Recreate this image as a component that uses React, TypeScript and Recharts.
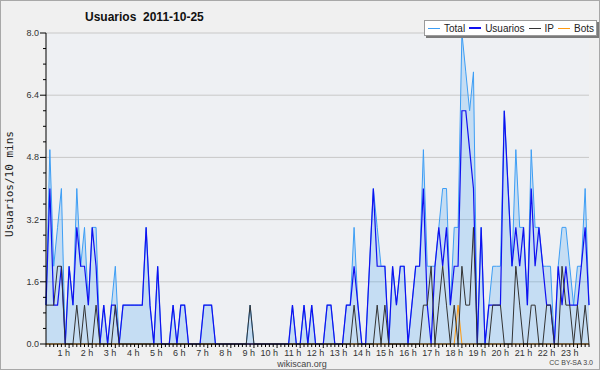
import React from "react";
import { ComposedChart, Area, Line, XAxis, YAxis, CartesianGrid } from "recharts";

// 10-minute slots, 0 = 00:00
const total = [
  1, 5, 2, 3, 4, 0, 2, 1, 4, 2,
  3, 1, 3, 3, 0, 1, 0, 1, 2, 0,
  1, 1, 1, 1, 1, 1, 3, 1, 0, 2,
  0, 0, 0, 1, 0, 1, 1, 0, 0, 0,
  0, 1, 1, 1, 0, 0, 0, 0, 0, 0,
  0, 0, 0, 1, 0, 0, 0, 0, 0, 0,
  0, 0, 0, 0, 1, 0, 0, 1, 0, 1,
  0, 0, 0, 1, 1, 0, 0, 0, 1, 1,
  3, 1, 0, 0, 2, 4, 3, 2, 2, 0,
  2, 1, 2, 2, 0, 1, 2, 2, 5, 2,
  2, 2, 3, 4, 4, 1, 3, 3, 8, 7,
  6, 7, 0, 3, 0, 1, 2, 2, 2, 6,
  4, 2, 5, 3, 3, 1, 5, 3, 3, 2,
  2, 2, 0, 2, 3, 3, 2, 1, 2, 2,
  4, 1,
];

const usuarios = [
  1, 4, 1, 1, 2, 0, 2, 1, 3, 2,
  2, 1, 3, 2, 0, 1, 0, 1, 1, 0,
  1, 1, 1, 1, 1, 1, 3, 1, 0, 2,
  0, 0, 0, 1, 0, 1, 1, 0, 0, 0,
  0, 1, 1, 1, 0, 0, 0, 0, 0, 0,
  0, 0, 0, 0, 0, 0, 0, 0, 0, 0,
  0, 0, 0, 0, 1, 0, 0, 1, 0, 1,
  0, 0, 0, 1, 1, 0, 0, 0, 1, 1,
  2, 1, 0, 0, 2, 4, 2, 2, 2, 0,
  2, 1, 2, 2, 0, 1, 2, 2, 4, 1,
  0, 2, 3, 2, 3, 1, 2, 2, 6, 6,
  5, 4, 0, 3, 0, 1, 1, 1, 1, 6,
  4, 2, 3, 2, 3, 1, 4, 2, 3, 2,
  1, 1, 0, 2, 1, 2, 1, 1, 1, 2,
  3, 1,
];

const ip = [
  1, 1, 1, 2, 2, 0, 0, 0, 1, 0,
  1, 0, 0, 1, 0, 0, 0, 0, 1, 0,
  0, 0, 0, 0, 0, 0, 0, 0, 0, 0,
  0, 0, 0, 0, 0, 0, 0, 0, 0, 0,
  0, 0, 0, 0, 0, 0, 0, 0, 0, 0,
  0, 0, 0, 1, 0, 0, 0, 0, 0, 0,
  0, 0, 0, 0, 0, 0, 0, 0, 0, 0,
  0, 0, 0, 0, 0, 0, 0, 0, 0, 0,
  1, 0, 0, 0, 0, 0, 1, 0, 1, 0,
  0, 0, 0, 0, 0, 0, 0, 0, 1, 1,
  2, 0, 1, 2, 1, 0, 1, 0, 2, 1,
  1, 3, 0, 0, 0, 0, 1, 1, 1, 0,
  0, 0, 2, 1, 0, 0, 1, 1, 0, 0,
  1, 1, 0, 0, 2, 1, 1, 0, 1, 0,
  1, 0,
];

const bots = [
  0, 0, 0, 0, 0, 0, 0, 0, 0, 0,
  0, 0, 0, 0, 0, 0, 0, 0, 0, 0,
  0, 0, 0, 0, 0, 0, 0, 0, 0, 0,
  0, 0, 0, 0, 0, 0, 0, 0, 0, 0,
  0, 0, 0, 0, 0, 0, 0, 0, 0, 0,
  0, 0, 0, 0, 0, 0, 0, 0, 0, 0,
  0, 0, 0, 0, 0, 0, 0, 0, 0, 0,
  0, 0, 0, 0, 0, 0, 0, 0, 0, 0,
  0, 0, 0, 0, 0, 0, 0, 0, 0, 0,
  0, 0, 0, 0, 0, 0, 0, 0, 0, 0,
  0, 0, 0, 0, 0, 0, 0, 1, 0, 0,
  0, 0, 0, 0, 0, 0, 0, 0, 0, 0,
  0, 0, 0, 0, 0, 0, 0, 0, 0, 0,
  0, 0, 0, 0, 0, 0, 0, 0, 0, 0,
  0, 0,
];

const hourTicks = [6, 12, 18, 24, 30, 36, 42, 48, 54, 60, 66, 72, 78, 84, 90, 96, 102, 108, 114, 120, 126, 132, 138];
const hourLabels = [
  "1 h", "2 h", "3 h", "4 h", "5 h", "6 h", "7 h", "8 h", "9 h", "10 h", "11 h", "12 h",
  "13 h", "14 h", "15 h", "16 h", "17 h", "18 h", "19 h", "20 h", "21 h", "22 h", "23 h",
];
const yTicks = [0, 0.4, 0.8, 1.2, 1.6, 2, 2.4, 2.8, 3.2, 3.6, 4, 4.4, 4.8, 5.2, 5.6, 6, 6.4, 6.8, 7.2, 7.6, 8];
const yMajor = [0, 1.6, 3.2, 4.8, 6.4, 8];

const data = total.map((t, i) => ({ i, total: t, usuarios: usuarios[i], ip: ip[i], bots: bots[i] }));
const xTicks = data.map((d) => d.i);

const SANS = '"Liberation Sans", Arial, sans-serif';
const C_TOTAL = "#3d9ef5";
const C_USR = "#1010f0";
const C_IP = "#333333";
const C_BOTS = "#ff9a10";

function XTick({ x, y, payload }: any) {
  const h = hourTicks.indexOf(payload.value);
  return (
    <g>
      <line x1={x} x2={x} y1={y} y2={y + (h >= 0 ? 4 : 3)} stroke="#000" />
      {h >= 0 && (
        <text x={x + 1} y={y + 12} textAnchor="end" fontSize={9} fontFamily={SANS} fill="#333">
          {hourLabels[h]}
        </text>
      )}
    </g>
  );
}

function YTick({ x, y, payload }: any) {
  const v = payload.value;
  const major = yMajor.some((m) => Math.abs(m - v) < 1e-6);
  return (
    <g>
      <line x1={x - (major ? 6 : 3)} x2={x} y1={y} y2={y} stroke="#000" />
      {major && (
        <text x={x - 7} y={y + 3} textAnchor="end" fontSize={9} fontFamily={SANS} fill="#333">
          {v.toFixed(1)}
        </text>
      )}
    </g>
  );
}

const legendItems = [
  { name: "Total", color: C_TOTAL, w: 1 },
  { name: "Usuarios", color: C_USR, w: 1.5 },
  { name: "IP", color: C_IP, w: 1 },
  { name: "Bots", color: C_BOTS, w: 1 },
];

export default function App() {
  return (
    <div style={{ position: "absolute", left: 0, top: 0, width: 600, height: 370, background: "#f0f0f0", fontFamily: SANS }}>
      <ComposedChart width={600} height={370} data={data} margin={{ top: 33, right: 11, bottom: 0, left: 0 }}>
        <CartesianGrid vertical={false} horizontalValues={[1.6, 3.2, 4.8, 6.4, 8]} stroke="#c8c8c8" fill="#eef0f3" fillOpacity={1} />
        <XAxis
          type="number"
          dataKey="i"
          domain={[0, 141]}
          ticks={xTicks}
          interval={0}
          tick={(p: any) => <XTick {...p} />}
          tickLine={false}
          tickSize={0}
          tickMargin={0}
          height={26}
          axisLine={{ stroke: "#000" }}
        />
        <YAxis
          domain={[0, 8]}
          ticks={yTicks}
          interval={0}
          tick={(p: any) => <YTick {...p} />}
          tickLine={false}
          tickSize={0}
          tickMargin={0}
          width={46}
          axisLine={{ stroke: "#000" }}
        />
        <Area type="linear" dataKey="total" stroke={C_TOTAL} strokeWidth={1} fill={C_TOTAL} fillOpacity={0.23} dot={false} activeDot={false} isAnimationActive={false} />
        <Line type="linear" dataKey="bots" stroke={C_BOTS} strokeWidth={1} dot={false} activeDot={false} isAnimationActive={false} />
        <Line type="linear" dataKey="usuarios" stroke={C_USR} strokeWidth={1.2} dot={false} activeDot={false} isAnimationActive={false} />
        <Line type="linear" dataKey="ip" stroke={C_IP} strokeWidth={1} dot={false} activeDot={false} isAnimationActive={false} />
      </ComposedChart>

      <div style={{ position: "absolute", left: 85, top: 10, fontSize: 12, fontWeight: "bold", lineHeight: "14px", whiteSpace: "pre", color: "#111" }}>
        {"Usuarios  2011-10-25"}
      </div>

      <div
        style={{
          position: "absolute",
          left: 9,
          top: 184,
          transform: "translate(-50%, -50%) rotate(-90deg)",
          whiteSpace: "nowrap",
          fontSize: 11,
          fontFamily: '"DejaVu Sans Mono", monospace',
          color: "#222",
        }}
      >
        Usuarios/10 mins
      </div>

      <div
        style={{
          position: "absolute",
          left: 424,
          top: 20,
          width: 173,
          height: 16,
          boxSizing: "border-box",
          background: "#fff",
          border: "1px solid #9a9a9a",
          boxShadow: "2px 2px 0 #7a7a7a",
          display: "flex",
          alignItems: "center",
          paddingLeft: 3,
          fontSize: 10,
          color: "#222",
        }}
      >
        {legendItems.map((it) => (
          <div key={it.name} style={{ display: "flex", alignItems: "center", marginRight: 4 }}>
            <div style={{ width: 12, height: it.w, background: it.color, marginRight: 4 }} />
            <span>{it.name}</span>
          </div>
        ))}
      </div>

      <div style={{ position: "absolute", left: 0, width: 600, top: 359, lineHeight: "10px", textAlign: "center", fontSize: 9, color: "#444", paddingLeft: 2 }}>
        wikiscan.org
      </div>
      <div style={{ position: "absolute", right: 7, top: 359, lineHeight: "8px", fontSize: 7, color: "#444" }}>CC BY-SA 3.0</div>

      <div style={{ position: "absolute", left: 0, top: 0, width: 600, height: 370, boxSizing: "border-box", border: "1px solid #a8a8a8", pointerEvents: "none" }} />
    </div>
  );
}
